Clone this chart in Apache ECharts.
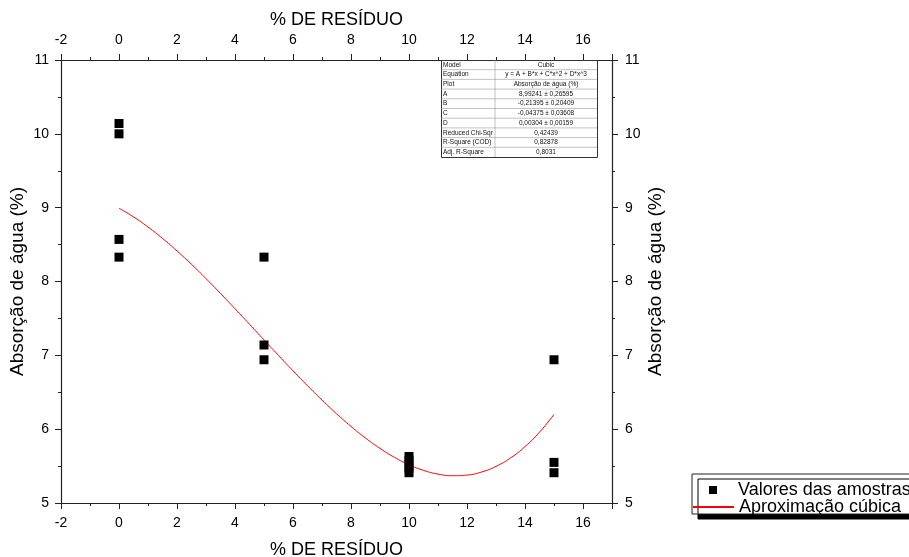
<!DOCTYPE html>
<html><head><meta charset="utf-8">
<script src="https://cdn.jsdelivr.net/npm/echarts@6/dist/echarts.min.js"></script>
<style>html,body{margin:0;padding:0;background:#fff}#c{width:909px;height:557px}</style>
</head><body><div id="c"></div>
<script>
// Sample values (x = % de resíduo, y = absorção de água %)
var sampleX = [0, 0, 0, 0, 5, 5, 5, 10, 10, 10, 10, 10, 15, 15, 15];
var sampleY = [10.14, 10.0, 8.57, 8.33, 8.33, 7.14, 6.94, 5.63, 5.58, 5.52, 5.47, 5.41, 6.94, 5.55, 5.41];
// Cubic fit curve values read at each half unit from 0 to 15
var fitX = [0,0.5,1,1.5,2,2.5,3,3.5,4,4.5,5,5.5,6,6.5,7,7.5,8,8.5,9,9.5,10,10.5,11,11.5,12,12.5,13,13.5,14,14.5,15];
var fitY = [8.9924,8.8749,8.7378,8.5833,8.4138,8.2316,8.0389,7.8380,7.6312,7.4207,7.2089,6.9980,6.7904,6.5882,6.3937,6.2094,6.0373,5.8798,5.7393,5.6179,5.5179,5.4417,5.3915,5.3695,5.3781,5.4196,5.4962,5.6102,5.7639,5.9595,6.1994];
var seriesNames = ['Valores das amostras', 'Aproximação cúbica'];
var xTitle = '% DE RESÍDUO';
var yTitle = 'Absorção de água (%)';
// Fit statistics table
var tableLabels = ['Model','Equation','Plot','A','B','C','D','Reduced Chi-Sqr','R-Square (COD)','Adj. R-Square'];
var tableValues = ['Cubic','y = A + B*x + C*x^2 + D*x^3','Absorção de água (%)','8,99241 ± 0,26595','-0,21395 ± 0,20409','-0,04375 ± 0,03608','0,00304 ± 0,00159','0,42439','0,82878','0,8031'];

var FONT = 'Liberation Sans, Arial, sans-serif';
var chart = echarts.init(document.getElementById('c'), null, {renderer:'canvas'});

function xAx(pos){
  return {type:'value', position:pos, min:-2, max:17, interval:2,
    name:xTitle, nameLocation:'middle', nameGap: pos==='top'?31:38, nameMoveOverlap:false,
    nameTextStyle:{fontFamily:FONT, fontSize:18, color:'#000'},
    axisLine:{show:true, onZero:false, lineStyle:{color:'#222', width:1.2}},
    axisTick:{show:true, length:6, lineStyle:{color:'#222'}},
    minorTick:{show:true, splitNumber:2, length:3, lineStyle:{color:'#222'}},
    splitLine:{show:false},
    axisLabel:{fontFamily:FONT, fontSize:14, color:'#000', margin:13, showMaxLabel:false,
      formatter:function(v){return v===17?'':String(v);}}
  };
}
function yAx(pos){
  return {type:'value', position:pos, min:5, max:11, interval:1,
    name:yTitle, nameLocation:'middle', nameGap:34, nameRotate:90, nameMoveOverlap:false,
    nameTextStyle:{fontFamily:FONT, fontSize:19, color:'#000'},
    axisLine:{show:true, onZero:false, lineStyle:{color:'#222', width:1.2}},
    axisTick:{show:true, length:6, lineStyle:{color:'#222'}},
    minorTick:{show:true, splitNumber:2, length:3, lineStyle:{color:'#222'}},
    splitLine:{show:false},
    axisLabel:{fontFamily:FONT, fontSize:14, color:'#000', margin: pos==='left'?12:13}
  };
}

var graphics = [];
var tL = 441, tT = 60, tW = 156, rowH = 9.7, colX = 495;
var nRows = tableLabels.length;
graphics.push({type:'rect', left:tL, top:tT, shape:{width:tW, height:rowH*nRows}, style:{fill:'#fff', stroke:'#333', lineWidth:1}, z:50});
for (var i=0;i<nRows;i++){
  if (i>0) graphics.push({type:'line', shape:{x1:tL, y1:tT+i*rowH, x2:tL+tW, y2:tT+i*rowH}, style:{stroke:'#999', lineWidth:0.6}, z:51});
  graphics.push({type:'text', x:tL+2, y:tT+i*rowH+rowH/2, style:{text:tableLabels[i], fontFamily:FONT, fontSize:6.5, fill:'#111', verticalAlign:'middle'}, z:52});
  graphics.push({type:'text', x:(colX+tL+tW)/2, y:tT+i*rowH+rowH/2, style:{text:tableValues[i], fontFamily:FONT, fontSize:6.5, fill:'#111', align:'center', verticalAlign:'middle'}, z:52});
}
graphics.push({type:'line', shape:{x1:colX, y1:tT, x2:colX, y2:tT+rowH*nRows}, style:{stroke:'#999', lineWidth:0.6}, z:51});
// legend frame with hard drop shadow
graphics.push({type:'rect', shape:{x:692, y:474, width:240, height:40},
  style:{fill:'#fff', stroke:'#222', lineWidth:1, shadowColor:'#000', shadowBlur:0, shadowOffsetX:6, shadowOffsetY:5}, z:10});

var scatterData = sampleX.map(function(x,i){return [x, sampleY[i]];});
var fitData = fitX.map(function(x,i){return [x, fitY[i]];});

chart.setOption({
  animation:false,
  backgroundColor:'#fff',
  grid:{left:61, right:297, top:60, bottom:54, outerBoundsMode:'none', containLabel:false},
  xAxis:[xAx('bottom'), xAx('top')],
  yAxis:[yAx('left'), yAx('right')],
  legend:[
    {orient:'vertical', left:709, top:481, padding:0, itemWidth:8, itemHeight:8, z:20,
      textStyle:{fontFamily:FONT, fontSize:18, color:'#000', padding:[0,0,0,16]},
      data:[{name:seriesNames[0], icon:'rect', itemStyle:{color:'#000'}}]},
    {orient:'vertical', left:692, top:498, padding:0, itemWidth:41, itemHeight:14, z:20,
      textStyle:{fontFamily:FONT, fontSize:18, color:'#000'},
      data:[{name:seriesNames[1], itemStyle:{opacity:0}}]}
  ],
  graphic: graphics,
  series:[
    {name:seriesNames[0], type:'scatter', xAxisIndex:0, yAxisIndex:0, symbol:'rect', symbolSize:9,
      itemStyle:{color:'#000', opacity:1}, data:scatterData, z:3},
    {name:seriesNames[1], type:'line', xAxisIndex:0, yAxisIndex:0, smooth:true, symbol:'none',
      lineStyle:{color:'#ff0000', width:1}, itemStyle:{color:'#ff0000'}, data:fitData, z:2}
  ]
});
</script></body></html>
